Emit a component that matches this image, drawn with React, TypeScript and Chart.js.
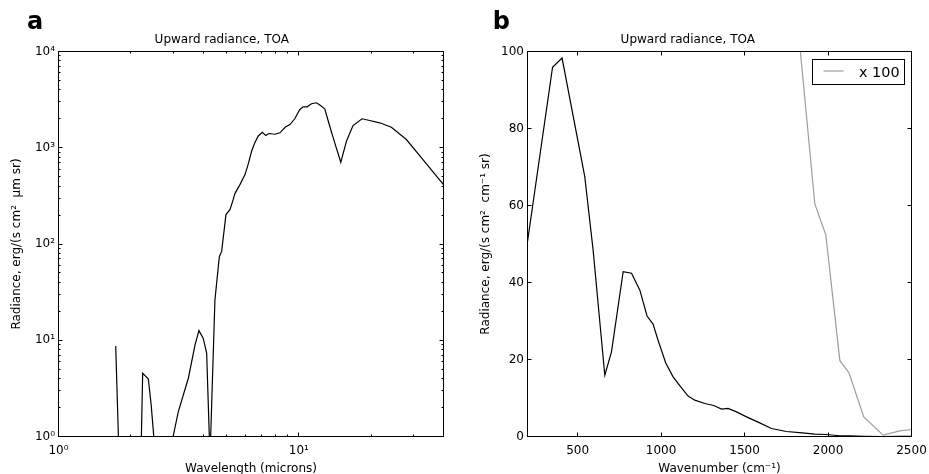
import React, { useEffect, useRef } from 'react';
import { Chart, registerables } from 'chart.js';

Chart.register(...registerables);

const FONT = '"DejaVu Sans", "Liberation Sans", sans-serif';

// ---------- Panel a: upward radiance vs wavelength (log-log) ----------
const wavelengthMicrons = [
  1.73, 1.79, 2.2, 2.24, 2.365, 2.43, 2.55, 2.83, 3.15, 3.47,
  3.7, 3.84, 4.0, 4.135, 4.27, 4.477, 4.67, 4.775, 4.975, 5.17,
  5.33, 5.42, 5.69, 5.97, 6.15, 6.36, 6.56, 6.77, 7.04, 7.29,
  7.51, 7.95, 8.34, 8.8, 9.18, 9.62, 10.1, 10.42, 10.83, 11.29,
  11.85, 12.31, 12.82, 13.45, 14.11, 14.95, 15.78, 16.81, 18.32, 19.72,
  21.71, 24.27, 28.03, 32.85, 40,
];
const radiancePerMicron = [
  8.7, 0.5, 0.5, 4.55, 3.96, 2.13, 0.5, 0.5, 1.8, 4.03,
  8.96, 12.6, 10.5, 7.34, 0.6, 26.3, 74.3, 83.8, 202, 227,
  289, 334, 414, 526, 669, 920, 1125, 1318, 1449, 1340,
  1406, 1381, 1429, 1640, 1742, 2000, 2497, 2665, 2665, 2864,
  2933, 2748, 2540, 1673, 1125, 706, 1169, 1702, 2000, 1919,
  1816, 1634, 1217, 754, 414,
];
const wlMajorTicks = [1, 10];
const wlMajorLabels = ['10⁰', '10¹'];
const wlMinorTicks = [2, 3, 4, 5, 6, 7, 8, 9, 20, 30, 40];
const radLogMajorTicks = [1, 10, 100, 1000, 10000];
const radLogMajorLabels = ['10⁰', '10¹', '10²', '10³', '10⁴'];
const radLogMinorTicks = [
  2, 3, 4, 5, 6, 7, 8, 9,
  20, 30, 40, 50, 60, 70, 80, 90,
  200, 300, 400, 500, 600, 700, 800, 900,
  2000, 3000, 4000, 5000, 6000, 7000, 8000, 9000,
];

// ---------- Panel b: upward radiance vs wavenumber ----------
const wavenumber = [
  200, 350, 407, 543, 593, 663, 703, 773, 823, 873,
  916, 952, 982, 1028, 1072, 1112, 1162, 1202, 1262, 1316,
  1362, 1401, 1452, 1512, 1591, 1661, 1751, 1830, 1921, 1987,
  2071, 2126, 2214, 2330, 2430, 2500,
];
const radiancePerWavenumber = [
  50.6, 95.9, 98.3, 67.5, 48.4, 15.9, 22.0, 42.8, 42.4, 38.0,
  31.3, 29.2, 25.0, 19.1, 15.5, 13.2, 10.5, 9.44, 8.58, 8.06,
  7.1, 7.28, 6.4, 5.1, 3.54, 2.08, 1.3, 1.02, 0.604, 0.523,
  0.197, 0.165, 0.051, 0.0034, 0.0146, 0.0182,
];
const magnification = 100;
const magnifiedLabel = 'x 100';
const wnTicks = [500, 1000, 1500, 2000, 2500];
const radLinTicks = [0, 20, 40, 60, 80, 100];

const titleText = 'Upward radiance, TOA';

const decorPlugin = {
  id: 'decor',
  afterDatasetsDraw(chart: any, _args: any, opts: any) {
    const { ctx, chartArea: a, scales } = chart;
    ctx.save();
    ctx.strokeStyle = '#000';
    ctx.lineWidth = 1;
    ctx.beginPath();
    const xs = scales.x;
    const ys = scales.y;
    for (const t of xs.ticks) {
      const p = Math.floor(xs.getPixelForValue(t.value)) + 0.5;
      const len = t.major ? 4 : 2;
      ctx.moveTo(p, a.bottom);
      ctx.lineTo(p, a.bottom - len);
      ctx.moveTo(p, a.top);
      ctx.lineTo(p, a.top + len);
    }
    for (const t of ys.ticks) {
      const p = Math.floor(ys.getPixelForValue(t.value)) + 0.5;
      const len = t.major ? 4 : 2;
      ctx.moveTo(a.left, p);
      ctx.lineTo(a.left + len, p);
      ctx.moveTo(a.right, p);
      ctx.lineTo(a.right - len, p);
    }
    ctx.stroke();
    ctx.strokeRect(a.left, a.top, a.right - a.left, a.bottom - a.top);

    if (opts.legend) {
      const ds = chart.data.datasets[1];
      const bx = a.right - 99;
      const by = a.top + 8;
      ctx.fillStyle = '#fff';
      ctx.fillRect(bx, by, 92, 25);
      ctx.strokeStyle = '#000';
      ctx.strokeRect(bx, by, 92, 25);
      ctx.beginPath();
      ctx.strokeStyle = ds.borderColor;
      ctx.lineWidth = ds.borderWidth;
      ctx.moveTo(a.right - 88, a.top + 19.5);
      ctx.lineTo(a.right - 68, a.top + 19.5);
      ctx.stroke();
      ctx.fillStyle = '#000';
      ctx.font = `14.4px ${FONT}`;
      ctx.textBaseline = 'alphabetic';
      ctx.textAlign = 'left';
      ctx.fillText(ds.label, a.right - 52.5, a.top + 25);
    }
    ctx.restore();
  },
  afterDraw(chart: any, _args: any, opts: any) {
    const { ctx } = chart;
    ctx.save();
    ctx.fillStyle = '#000';
    ctx.font = `bold 24px ${FONT}`;
    ctx.textBaseline = 'alphabetic';
    ctx.textAlign = 'left';
    ctx.fillText(opts.letter, opts.letterX, 29);
    ctx.restore();
  },
};

function buildTicks(major: number[], minor: number[]) {
  return (scale: any) => {
    const list = [
      ...major.map((v) => ({ value: v, major: true })),
      ...minor.map((v) => ({ value: v, major: false })),
    ];
    list.sort((p, q) => p.value - q.value);
    scale.ticks = list;
  };
}

function labelFor(values: number[], labels: string[]) {
  return (value: any) => {
    const i = values.findIndex((v) => Math.abs(v - Number(value)) < 1e-9);
    return i >= 0 ? labels[i] : '';
  };
}

function fixX(h: number) {
  return (s: any) => {
    s.height = h;
    s.paddingLeft = 0;
    s.paddingRight = 0;
  };
}
function fixY(w: number) {
  return (s: any) => {
    s.width = w;
    s.paddingTop = 0;
    s.paddingBottom = 0;
  };
}

const tickFont = { family: FONT, size: 12 };
const titleFont = { family: FONT, size: 12, weight: 'normal' as const, lineHeight: 1.2 };

function commonPlugins(letter: string, letterX: number, legend: boolean) {
  return {
    legend: { display: false },
    tooltip: { enabled: false },
    title: {
      display: true,
      text: titleText,
      color: '#000',
      font: titleFont,
      padding: { top: 32.8, bottom: 4.3 },
    },
    decor: { letter, letterX, legend },
  };
}

function configA(): any {
  return {
    type: 'line',
    data: {
      datasets: [
        {
          label: 'TOA',
          data: wavelengthMicrons.map((x, i) => ({ x, y: radiancePerMicron[i] })),
          borderColor: '#000',
          borderWidth: 1.2,
          pointRadius: 0,
          tension: 0,
          fill: false,
        },
      ],
    },
    options: {
      animation: false,
      responsive: false,
      devicePixelRatio: 1,
      events: [],
      layout: { padding: { left: 0, right: 20.5, top: 0, bottom: 0 } },
      plugins: commonPlugins('a', 27, false),
      scales: {
        x: {
          type: 'logarithmic',
          min: 1,
          max: 40,
          grid: { display: false, drawTicks: false },
          border: { display: false },
          afterBuildTicks: buildTicks(wlMajorTicks, wlMinorTicks),
          afterFit: fixX(37.5),
          ticks: {
            autoSkip: false,
            maxRotation: 0,
            minRotation: 0,
            padding: 7,
            color: '#000',
            font: tickFont,
            callback: labelFor(wlMajorTicks, wlMajorLabels),
          },
          title: {
            display: true,
            text: 'Wavelength (microns)',
            color: '#000',
            font: { family: FONT, size: 12, lineHeight: 0.8 },
            padding: 0,
          },
        },
        y: {
          type: 'logarithmic',
          min: 1,
          max: 10000,
          grid: { display: false, drawTicks: false },
          border: { display: false },
          afterBuildTicks: buildTicks(radLogMajorTicks, radLogMinorTicks),
          afterFit: fixY(58.5),
          ticks: {
            autoSkip: false,
            padding: 3.5,
            color: '#000',
            font: tickFont,
            callback: labelFor(radLogMajorTicks, radLogMajorLabels),
          },
          title: {
            display: true,
            text: 'Radiance, erg/(s cm²  μm sr)',
            color: '#000',
            font: { family: FONT, size: 12, lineHeight: 1.2 },
            padding: { top: 9.5, bottom: 0 },
          },
        },
      },
    },
    plugins: [decorPlugin],
  };
}

function configB(): any {
  return {
    type: 'line',
    data: {
      datasets: [
        {
          label: 'TOA',
          data: wavenumber.map((x, i) => ({ x, y: radiancePerWavenumber[i] })),
          borderColor: '#000',
          borderWidth: 1.2,
          pointRadius: 0,
          tension: 0,
          fill: false,
        },
        {
          label: magnifiedLabel,
          data: wavenumber.map((x, i) => ({ x, y: radiancePerWavenumber[i] * magnification })),
          borderColor: '#9c9c9c',
          borderWidth: 1.2,
          pointRadius: 0,
          tension: 0,
          fill: false,
        },
      ],
    },
    options: {
      animation: false,
      responsive: false,
      devicePixelRatio: 1,
      events: [],
      layout: { padding: { left: 0, right: 17.5, top: 0, bottom: 0 } },
      plugins: commonPlugins('b', 28.8, true),
      scales: {
        x: {
          type: 'linear',
          min: 200,
          max: 2500,
          grid: { display: false, drawTicks: false },
          border: { display: false },
          afterBuildTicks: buildTicks(wnTicks, []),
          afterFit: fixX(37.5),
          ticks: {
            autoSkip: false,
            maxRotation: 0,
            minRotation: 0,
            padding: 7,
            color: '#000',
            font: tickFont,
            callback: (v: any) => String(v),
          },
          title: {
            display: true,
            text: 'Wavenumber (cm⁻¹)',
            color: '#000',
            font: { family: FONT, size: 12, lineHeight: 0.8 },
            padding: 0,
          },
        },
        y: {
          type: 'linear',
          min: 0,
          max: 100,
          grid: { display: false, drawTicks: false },
          border: { display: false },
          afterBuildTicks: buildTicks(radLinTicks, []),
          afterFit: fixY(63.5),
          ticks: {
            autoSkip: false,
            padding: 3.5,
            color: '#000',
            font: tickFont,
            callback: (v: any) => String(v),
          },
          title: {
            display: true,
            text: 'Radiance, erg/(s cm²  cm⁻¹ sr)',
            color: '#000',
            font: { family: FONT, size: 12, lineHeight: 1.2 },
            padding: { top: 14.5, bottom: 0 },
          },
        },
      },
    },
    plugins: [decorPlugin],
  };
}

export default function App() {
  const refA = useRef<HTMLCanvasElement | null>(null);
  const refB = useRef<HTMLCanvasElement | null>(null);

  useEffect(() => {
    const charts: Chart[] = [];
    if (refA.current) charts.push(new Chart(refA.current, configA()));
    if (refB.current) charts.push(new Chart(refB.current, configB()));
    return () => charts.forEach((c) => c.destroy());
  }, []);

  return (
    <div
      style={{
        position: 'absolute',
        left: 0,
        top: 0,
        width: 929,
        height: 474,
        overflow: 'hidden',
        background: '#fff',
      }}
    >
      <canvas
        ref={refA}
        width={464}
        height={474}
        style={{ position: 'absolute', left: 0, top: 0, width: 464, height: 474, display: 'block' }}
      />
      <canvas
        ref={refB}
        width={465}
        height={474}
        style={{ position: 'absolute', left: 464, top: 0, width: 465, height: 474, display: 'block' }}
      />
    </div>
  );
}
